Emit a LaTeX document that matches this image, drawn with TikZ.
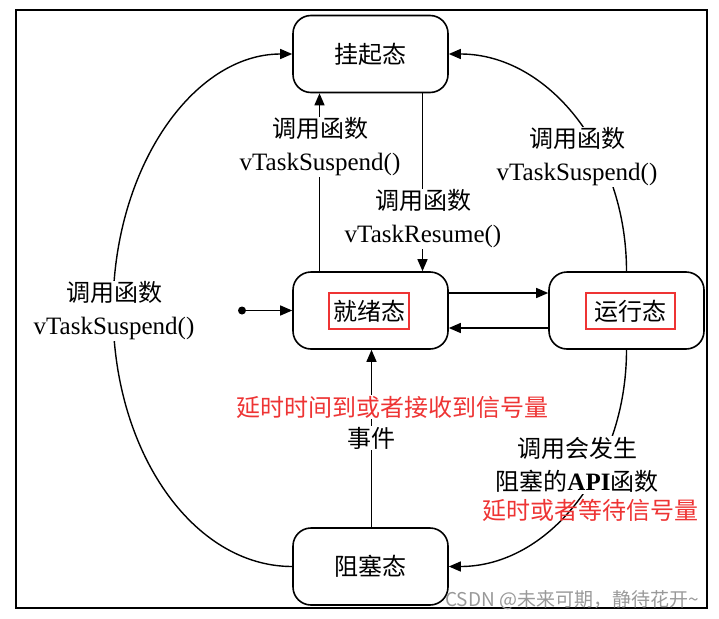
\documentclass[tikz,border=0pt]{standalone}
\usepackage{fontspec}
\setmainfont{Liberation Serif}
\newfontfamily\cjk{Noto Sans CJK SC}
\usetikzlibrary{arrows.meta}
\definecolor{myred}{RGB}{238,52,52}
\newcommand\lat[1]{{\rmfamily\fontsize{25}{33}\selectfont #1}}
\begin{document}
\begin{tikzpicture}[x=1pt,y=-1pt,
  state/.style={draw, line width=1.6pt, rounded corners=18pt, minimum width=155pt, minimum height=77pt, inner sep=0pt, font=\cjk\fontsize{24}{30}\selectfont},
  lab/.style={font=\cjk\fontsize{24}{33}\selectfont, align=center, fill=white, inner sep=1pt},
  redlab/.style={font=\cjk\fontsize{24}{33}\selectfont, text=myred, inner sep=1pt},
  conn/.style={line width=1.4pt, -{Triangle[length=12pt,width=10pt]}},
  redbox/.style={draw=myred, line width=1.7pt, minimum height=36pt, inner sep=0pt, font=\cjk\fontsize{24}{30}\selectfont}
]
\useasboundingbox (0,0) rectangle (719,618);
\draw[line width=2.2pt] (16,10) rectangle (707,608);

% states
\node[state] (susp) at (370.5,54) {挂起态};
\node[state] (ready) at (370.5,310.5) {};
\node[redbox, minimum width=80pt] (readyt) at (369,311) {就绪态};
\node[state] (run) at (626.5,310.5) {};
\node[redbox, minimum width=89pt] (runt) at (630.5,311) {运行态};
\node[state] (blk) at (370.5,566.5) {阻塞态};

% start point
\fill (242,310.5) circle (4pt) coordinate (start);
\draw[conn] (start) -- (ready.west);

% ready <-> run
\draw[conn] ([yshift=17.5pt]ready.east) -- ([yshift=17.5pt]run.west);
\draw[conn] ([yshift=-17.5pt]run.west) -- ([yshift=-17.5pt]ready.east);

% ready <-> suspended
\draw[conn] ([xshift=-51pt]ready.north) -- ([xshift=-51pt]susp.south);
\draw[conn] ([xshift=52pt]susp.south) -- ([xshift=52pt]ready.north);

% blocked -> ready
\draw[conn] ([xshift=1pt]blk.north) -- ([xshift=1pt]ready.south);

% big left curve: blocked -> suspended
\coordinate (lft) at (113,310);
\draw[conn] (blk.west) .. controls +(-99,0) and +(0,142) .. (lft)
  .. controls +(0,-142) and +(-99,0) .. (susp.west);

% right top curve: running -> suspended
\draw[conn] (run.north) .. controls +(0,-120.4) and +(98.9,0) .. (susp.east);

% right bottom curve: running -> blocked
\draw[conn] (run.south) .. controls +(0,120.4) and +(98.9,0) .. (blk.east);

% labels
\node[lab] (l1) at (114,311) {调用函数\\\lat{vTaskSuspend()}};
\node[lab] (l2) at (320,147) {调用函数\\\lat{vTaskSuspend()}};
\node[lab] (l3) at (423,219) {调用函数\\\lat{vTaskResume()}};
\node[lab] (l4) at (577,157) {调用函数\\\lat{vTaskSuspend()}};
\node[redlab, fill=white] (l5) at (392,407) {延时时间到或者接收到信号量};
\node[lab] (l5b) at (371,438) {事件};
\node[lab] (l6) at (577,465) {调用会发生\\阻塞的{\rmfamily\bfseries\fontsize{25}{33}\selectfont API}函数};
\node[redlab] (l7) at (590,510) {延时或者等待信号量};

% watermark
\node[font=\cjk\fontsize{19}{22}\selectfont, text=black!40, inner sep=0pt] (wm) at (572,600) {CSDN @未来可期，静待花开\textasciitilde};
\end{tikzpicture}
\end{document}
